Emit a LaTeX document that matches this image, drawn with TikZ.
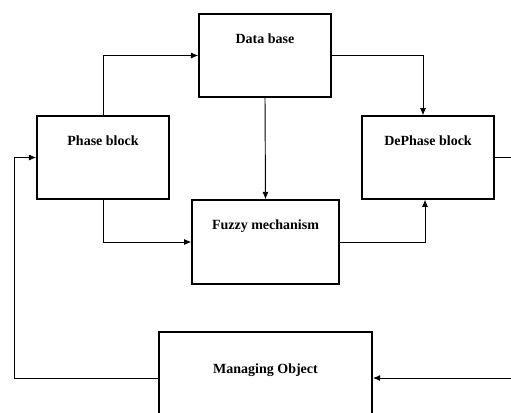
\documentclass[tikz,border=0pt]{standalone}
\usepackage{fontspec}
\setmainfont{Liberation Serif}
\usetikzlibrary{arrows.meta,positioning}

\begin{document}
\begin{tikzpicture}[x=0.75pt, y=-0.75pt, font=\fontsize{10.5}{12}\selectfont\bfseries,
  block/.style={draw, line width=1.1pt, inner sep=0pt, minimum width=99pt, text height=22pt, text depth=40pt, align=center},
  arr/.style={-{Latex[length=5.5pt,width=4.5pt]}, line width=0.7pt}]
  \useasboundingbox (0,0) rectangle (511,412);
  \node[block] (base) at (265,55.5) {Data base};
  \node[block] (phase) at (103,157.5) {Phase block};
  \node[block] (dephase) at (428,157.5) {DePhase block};
  \node[block, minimum width=110pt, text depth=41pt] (fuzzy) at (265.5,242) {Fuzzy mechanism};
  \node[block, minimum width=160pt, text height=31pt, text depth=38pt] (manage) at (265.5,378) {Managing Object};
  \draw[arr] (phase.north) |- (base.west);
  \draw[arr] (base.east) -| ([xshift=-3.75pt]dephase.north);
  \draw[arr] (base.south) -- (fuzzy.north);
  \draw[arr] (phase.south) |- (fuzzy.west);
  \draw[arr] (fuzzy.east) -| ([xshift=-2.25pt]dephase.south);
  \draw[arr] (dephase.east) -- ++(40,0) |- (manage.east);
  \draw[arr] (manage.west) -- ++(-144,0) |- (phase.west);
\end{tikzpicture}
\end{document}
